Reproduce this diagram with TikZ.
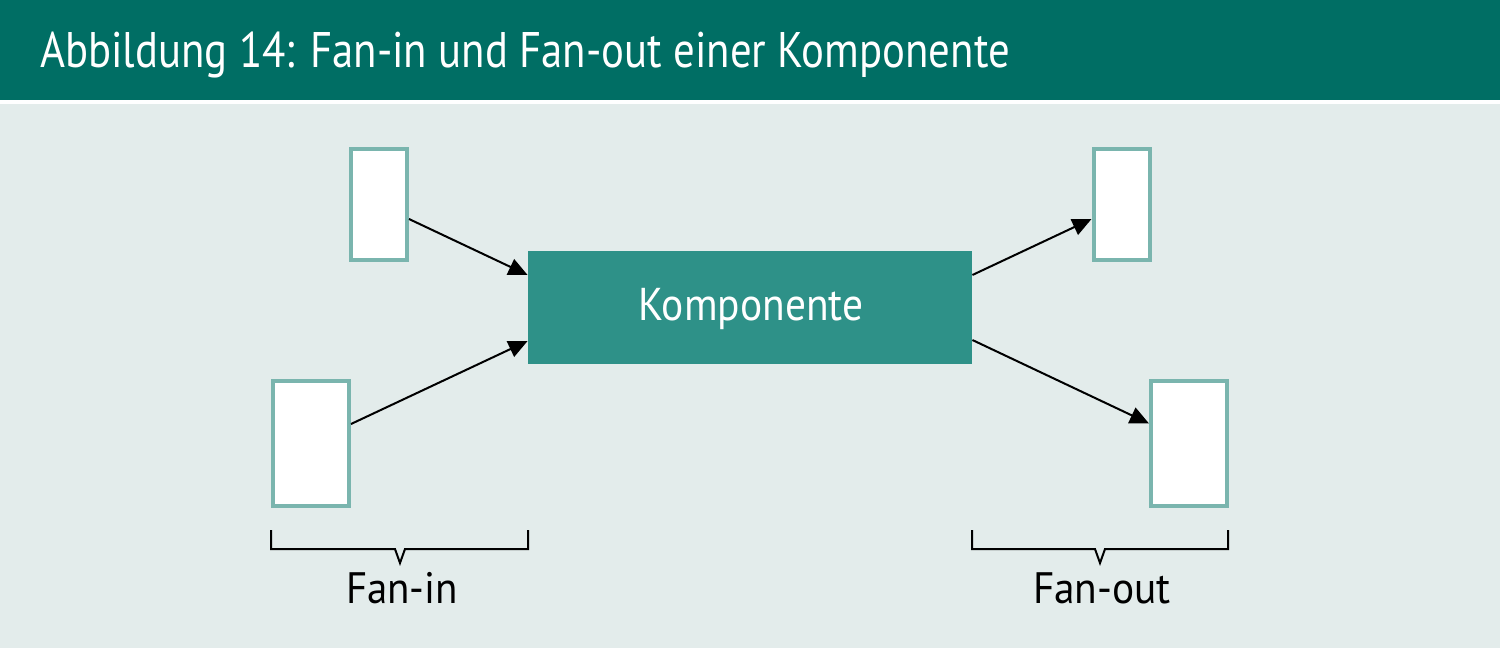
\documentclass[tikz,border=0pt]{standalone}
\usepackage{fontspec}
\setmainfont{PT Sans}
\usetikzlibrary{arrows.meta}
\definecolor{headteal}{HTML}{006E64}
\definecolor{pagebg}{HTML}{E3ECEB}
\definecolor{compteal}{HTML}{2E9188}
\definecolor{boxedge}{HTML}{7AB5AE}
\tikzset{
  unitbox/.style={draw=boxedge, line width=2pt, fill=white, inner sep=0pt},
  smallbox/.style={unitbox, minimum width=28pt, minimum height=55.5pt},
  largebox/.style={unitbox, minimum width=38pt, minimum height=62.5pt},
  compbox/.style={fill=compteal, inner sep=0pt, minimum width=222pt, minimum height=56.5pt},
  flow/.style={line width=1pt, -{Triangle[length=9.5pt,width=8.5pt]}},
  bracket/.style={line width=1pt, line join=miter},
  caption/.style={anchor=base, inner sep=0pt, font=\fontsize{22}{26}\selectfont}
}
\begin{document}
\begin{tikzpicture}[x=0.5pt, y=-0.5pt]
  \useasboundingbox (0,0) rectangle (1500,648);
  % background and header band
  \fill[pagebg] (0,0) rectangle (1500,648);
  \fill[headteal] (0,0) rectangle (1500,100);
  \fill[white] (0,100) rectangle (1500,104);
  \node[anchor=base west, inner sep=0pt, text=white, xscale=0.855,
        font=\fontsize{25}{30}\selectfont]
    (title) at (40,68) {Abbildung 14: Fan-in und Fan-out einer Komponente};

  % component and its neighbours
  \node[compbox] (komp) at (750,307.5) {};
  \node[anchor=base, inner sep=0pt, text=white, xscale=0.9,
        font=\fontsize{23}{27}\selectfont]
    (kompl) at (751,320) {Komponente};
  \node[smallbox] (tl) at (379,204.5) {};
  \node[largebox] (bl) at (311,443.5) {};
  \node[smallbox] (tr) at (1121.5,204.5) {};
  \node[largebox] (br) at (1189,443.5) {};

  % fan-in and fan-out connectors
  \draw[flow] ([yshift=-7.25pt]tl.east) -- ([yshift=16.25pt]komp.west);
  \draw[flow] ([yshift=9.75pt]bl.east) -- ([yshift=-16.75pt]komp.west);
  \draw[flow] ([yshift=16.25pt]komp.east) -- ([yshift=-7.25pt]tr.west);
  \draw[flow] ([yshift=-16.25pt]komp.east) -- ([yshift=10pt]br.west);

  % brackets with captions
  \draw[bracket] (271,530) -- (271,549) -- (395,549) -- (400,563) -- (405,549) -- (528,549) -- (528,530);
  \draw[bracket] (972,530) -- (972,549) -- (1095,549) -- (1100,563) -- (1105,549) -- (1228,549) -- (1228,530);
  \node[caption, xscale=0.93] (fanin) at (402,603) {Fan-in};
  \node[caption, xscale=0.94] (fanout) at (1102,603) {Fan-out};
\end{tikzpicture}
\end{document}
